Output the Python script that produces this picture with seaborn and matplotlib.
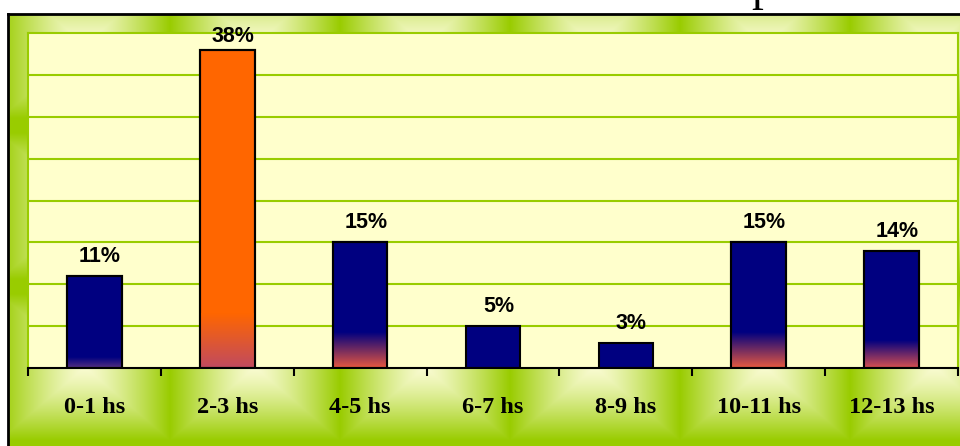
import matplotlib
matplotlib.use('Agg')
import matplotlib.pyplot as plt
import numpy as np
import pandas as pd
import seaborn as sns
from matplotlib.colors import to_rgb
from matplotlib.patches import Rectangle

# datos
categories = ['0-1 hs', '2-3 hs', '4-5 hs', '6-7 hs', '8-9 hs', '10-11 hs', '12-13 hs']
percentages = [11, 38, 15, 5, 3, 15, 14]
labels = ['11%', '38%', '15%', '5%', '3%', '15%', '14%']

# estilo de las barras (color base y degradado inferior)
bar_colors = ['#000080', '#FF6600', '#000080', '#000080', '#000080', '#000080', '#000080']
fade_height = [1.2, 6.5, 4.2, 0, 0, 4.2, 3.3]
fade_color = ['#55307F', '#C04A60', '#E8583F', None, None, '#E85A40', '#D85050']

W, H = 960, 446
fig = plt.figure(figsize=(W / 100, H / 100), dpi=100)
fig.patch.set_facecolor('white')

# fondo verde tipo "almohadilla"
bg = fig.add_axes([8 / W, 0, 1 - 8 / W, 1 - 14 / H])
xs = np.arange(8, W) + 0.5
ys = np.arange(14, H) + 0.5
X, Y = np.meshgrid(xs, ys)
tw, th = 170, 161
dx = np.abs(((X - 85) + tw / 2) % tw - tw / 2) / (tw / 2)
dy = np.abs(((Y - 45) + th / 2) % th - th / 2) / (th / 2)
t = np.clip(np.maximum(dx, dy * 1.1), 0, 1) ** 1.3
light = np.array(to_rgb('#F9FBD0'))
green = np.array(to_rgb('#99CC00'))
bg.imshow(light + (green - light) * t[..., None], aspect='auto',
          extent=(0, 1, 0, 1), origin='upper')
bg.set_xticks([])
bg.set_yticks([])
bg.spines[['right', 'bottom']].set_visible(False)
for s in ['left', 'top']:
    bg.spines[s].set_color('black')
    bg.spines[s].set_linewidth(2)

# area del grafico
ax = fig.add_axes([28 / W, 1 - 368 / H, 930 / W, 335 / H])
ax.set_facecolor('#FFFFCC')
df = pd.DataFrame({'intervalo': categories, 'pct': percentages})
sns.barplot(data=df, x='intervalo', y='pct', hue='intervalo', palette=bar_colors,
            saturation=1, width=0.41, edgecolor='black', linewidth=1.5,
            legend=False, ax=ax)

for patch, fh, fc, lab in zip(list(ax.patches), fade_height, fade_color, labels):
    x0, w, h = patch.get_x(), patch.get_width(), patch.get_height()
    if fh:
        c0 = np.array(to_rgb(fc))
        c1 = np.array(to_rgb(patch.get_facecolor()[:3]))
        g = np.linspace(0, 1, 200)[:, None, None]
        grad = c0 + (c1 - c0) * g
        im = ax.imshow(grad, extent=(x0, x0 + w, 0, fh), origin='lower',
                       aspect='auto', zorder=patch.get_zorder() + 0.1)
        im.set_clip_path(patch)
        ax.add_patch(Rectangle((x0, 0), w, h, fill=False, ec='black', lw=1.5,
                               zorder=patch.get_zorder() + 0.2))
    off = 2 if h == max(percentages) else 6.5
    ax.annotate(lab, (x0 + w / 2, h), xytext=(4, off), textcoords='offset points',
                ha='center', va='bottom', fontsize=15.5, fontweight='bold',
                family='Liberation Sans')

ax.set_xlim(-0.5, len(categories) - 0.5)
ax.set_ylim(0, 40)
ax.set_yticks(range(5, 40, 5))
ax.yaxis.grid(True, color='#99CC00', linewidth=1.5)
ax.set_axisbelow(True)
ax.tick_params(axis='y', length=0, labelleft=False)
ax.set_xticks(range(len(categories)))
ax.set_xticklabels(categories, fontsize=17.5, fontweight='bold', family='Liberation Serif')
ax.set_xticks(np.arange(-0.5, len(categories)), minor=True)
ax.tick_params(axis='x', which='major', length=0, pad=21)
ax.tick_params(axis='x', which='minor', length=6, width=1.5, direction='out', color='black')
ax.set_xlabel('')
ax.set_ylabel('')
for s in ['top', 'left', 'right']:
    ax.spines[s].set_color('#99CC00')
    ax.spines[s].set_linewidth(1.5)
ax.spines['bottom'].set_color('black')
ax.spines['bottom'].set_linewidth(1.5)

# titulo cortado arriba (solo asoma la "p")
fig.text(763 / W, 1.0, 'p', fontsize=34, family='Liberation Serif',
         ha='center', va='baseline')

fig.savefig('out.png', dpi=100)
